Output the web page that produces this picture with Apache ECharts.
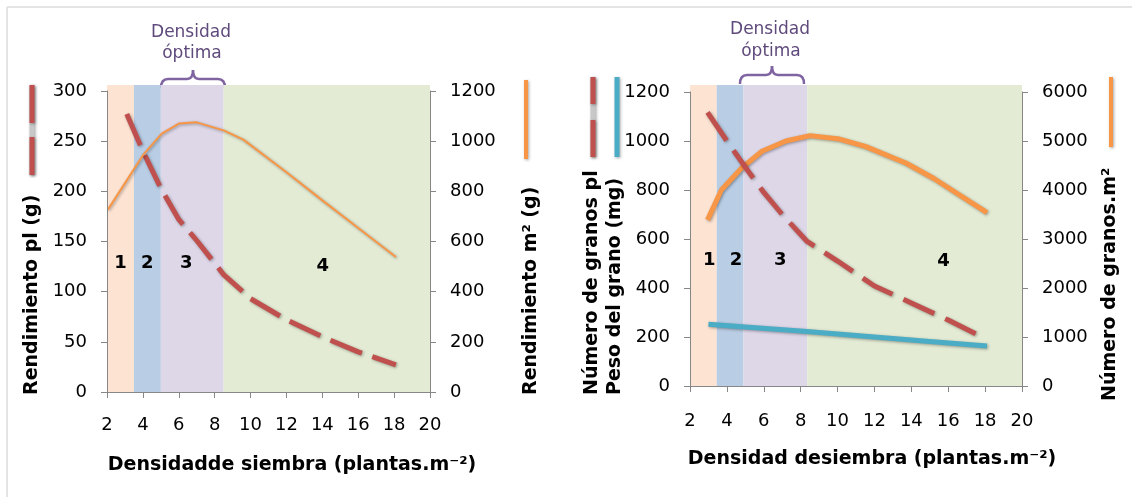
<!DOCTYPE html>
<html><head><meta charset="utf-8">
<script src="https://cdn.jsdelivr.net/npm/echarts@6/dist/echarts.min.js"></script>
<style>html,body{margin:0;padding:0;background:#fff}#c{width:1132px;height:497px}</style>
</head><body><div id="c"></div>
<script>
// ---------- DATA ----------
// Panel A
const densA_red = [3.1, 4, 5, 6, 7, 8.5, 10, 12, 14, 16, 18.1];
const rendPl    = [277, 240, 203, 172, 151, 117, 93, 72, 55, 40, 27];          // Rendimiento pl (g)
const densA_or  = [2.05, 4, 5.05, 6, 7, 8.5, 9.6, 12, 14, 16, 18.1];
const rendM2    = [727, 944, 1030, 1070, 1075, 1043, 1006, 876, 764, 654, 538]; // Rendimiento m2 (g)
// Panel B
const densB_red = [2.95, 4, 5, 6, 7, 8.35, 10, 12, 14, 16, 17.7];
const granosPl  = [1117, 1000, 893, 790, 700, 590, 510, 408, 339, 269, 205];    // Número de granos pl
const densB_cy  = [3, 5, 8.35, 12, 15, 18.1];
const pesoGrano = [252, 241, 222, 200, 182, 163];                               // Peso del grano (mg)
const densB_or  = [2.95, 3.7, 4.8, 5.9, 7.2, 8.5, 10.1, 11.5, 13.7, 15.2, 18.1];
const granosM2  = [3390, 4000, 4450, 4790, 5000, 5110, 5040, 4890, 4550, 4240, 3540]; // Número de granos.m2
// Zones (density limits) and labels
const zoneEdgesA = [2, 3.5, 5, 8.5, 20];
const zoneEdgesB = [2, 3.45, 4.9, 8.35, 20];
const zoneLabels = ['1', '2', '3', '4'];
// Axis ranges [min, max, interval]
const xRange = [2, 20, 2];
const yA_left = [0, 300, 50], yA_right = [0, 1200, 200];
const yB_left = [0, 1200, 200], yB_right = [0, 6000, 1000];
// Zone backgrounds reach a little above the top tick
const zoneTopA = 306, zoneTopB = 1229;

// ---------- STYLE ----------
const FF = 'DejaVu Sans';
const RED = '#c0504d', ORANGE = '#f79646', CYAN = '#4bacc6', PURPLE = '#8064a2';
const zoneColors = ['#fce3d2', '#b9cde4', '#ddd7e8', '#e3ebd4'];
const AX = '#878787';
const shadow = {shadowColor: 'rgba(0,0,0,0.35)', shadowBlur: 3, shadowOffsetX: 1, shadowOffsetY: 1};

const pairs = (xs, ys) => xs.map((x, i) => [x, ys[i]]);

function zones(edges, top, offs) {
  return {
    silent: true,
    itemStyle: {opacity: 1},
    label: {show: true, position: 'insideTop', fontFamily: FF, fontSize: 18, fontWeight: 'bold', color: '#000'},
    emphasis: {disabled: true},
    data: zoneLabels.map((lab, i) => [
      {name: lab, xAxis: edges[i], yAxis: 0, itemStyle: {color: zoneColors[i], opacity: 1},
       label: {offset: offs[i]}},
      {xAxis: edges[i + 1], yAxis: top}
    ])
  };
}

const plain = v => String(v);
function xAxisCfg(g, margin) {
  return {type: 'value', gridIndex: g, min: xRange[0], max: xRange[1], interval: xRange[2],
    axisLine: {show: true, onZero: false, lineStyle: {color: AX}},
    axisTick: {show: true, length: 6, lineStyle: {color: AX}},
    axisLabel: {margin: margin, fontFamily: FF, fontSize: 18, color: '#000', formatter: plain},
    splitLine: {show: false}, z: 5};
}
function yAxisCfg(g, pos, r) {
  return {type: 'value', gridIndex: g, position: pos, min: r[0], max: r[1], interval: r[2],
    axisLine: {show: true, onZero: false, lineStyle: {color: AX}},
    axisTick: {show: true, length: 6, lineStyle: {color: AX}},
    axisLabel: {margin: 20, fontFamily: FF, fontSize: 18, color: '#000', formatter: plain},
    splitLine: {show: false}, z: 5};
}
function hiddenX(g) { return {type: 'value', gridIndex: g, min: xRange[0], max: xRange[1], show: false}; }
function hiddenY(g, top) { return {type: 'value', gridIndex: g, min: 0, max: top, show: false}; }

function vText(x, y, text, size) {
  return {type: 'text', x: x, y: y, rotation: Math.PI / 2,
    style: {text: text, fontFamily: FF, fontSize: size || 19, fontWeight: 'bold', fill: '#000', align: 'left', verticalAlign: 'middle'}};
}
function hText(x, y, text, size, weight, color) {
  return {type: 'text', x: x, y: y,
    style: {text: text, fontFamily: FF, fontSize: size, fontWeight: weight, fill: color || '#000', align: 'center', verticalAlign: 'middle'}};
}
function vLine(x, y1, y2, color, w, dash) {
  const st = Object.assign({stroke: color, lineWidth: w}, shadow);
  if (dash) st.lineDash = dash;
  return {type: 'line', shape: {x1: x, y1: y1, x2: x, y2: y2}, style: st};
}
function brace(xL, xR, yE, yH, yP) {
  const xM = (xL + xR) / 2, r = 7, st = {stroke: PURPLE, lineWidth: 2.5, fill: null};
  return [
    {type: 'bezierCurve', shape: {x1: xL, y1: yE, cpx1: xL, cpy1: yH, x2: xL + r, y2: yH}, style: st},
    {type: 'line', shape: {x1: xL + r, y1: yH, x2: xM - 6, y2: yH}, style: st},
    {type: 'bezierCurve', shape: {x1: xM - 6, y1: yH, cpx1: xM, cpy1: yH, x2: xM, y2: yP}, style: st},
    {type: 'bezierCurve', shape: {x1: xM, y1: yP, cpx1: xM, cpy1: yH, x2: xM + 6, y2: yH}, style: st},
    {type: 'line', shape: {x1: xM + 6, y1: yH, x2: xR - r, y2: yH}, style: st},
    {type: 'bezierCurve', shape: {x1: xR - r, y1: yH, cpx1: xR, cpy1: yH, x2: xR, y2: yE}, style: st}
  ];
}

const chart = echarts.init(document.getElementById('c'), null, {renderer: 'canvas'});
const option = {
  animation: false,
  backgroundColor: '#fff',
  textStyle: {fontFamily: FF},
  grid: [
    {left: 107, top: 91, width: 323, height: 301},
    {left: 690, top: 92, width: 332, height: 294},
    {left: 107, top: 85, width: 323, height: 307},   // zone backgrounds A
    {left: 690, top: 85, width: 332, height: 301}    // zone backgrounds B
  ],
  xAxis: [xAxisCfg(0, 24), xAxisCfg(1, 26), hiddenX(2), hiddenX(3)],
  yAxis: [yAxisCfg(0, 'left', yA_left), yAxisCfg(0, 'right', yA_right),
          yAxisCfg(1, 'left', yB_left), yAxisCfg(1, 'right', yB_right),
          hiddenY(2, zoneTopA), hiddenY(3, zoneTopB)],
  series: [
    {type: 'line', name: 'zonasA', xAxisIndex: 2, yAxisIndex: 4, z: 1, data: [], silent: true,
     markArea: zones(zoneEdgesA, zoneTopA, [[0, 164], [0, 164], [-6, 164], [-4, 167]])},
    {type: 'line', name: 'zonasB', xAxisIndex: 3, yAxisIndex: 5, z: 1, data: [], silent: true,
     markArea: zones(zoneEdgesB, zoneTopB, [[6, 161], [6, 161], [5, 161], [29, 162]])},
    {type: 'line', name: 'Rendimiento pl (g)', xAxisIndex: 0, yAxisIndex: 0, z: 3,
     data: pairs(densA_red, rendPl), symbol: 'none', silent: true,
     lineStyle: Object.assign({color: RED, width: 5, type: [34, 11], cap: 'butt'}, shadow)},
    {type: 'line', name: 'Rendimiento m2 (g)', xAxisIndex: 0, yAxisIndex: 1, z: 3,
     data: pairs(densA_or, rendM2), symbol: 'none', silent: true,
     lineStyle: Object.assign({color: ORANGE, width: 2}, shadow)},
    {type: 'line', name: 'Número de granos pl', xAxisIndex: 1, yAxisIndex: 2, z: 4,
     data: pairs(densB_red, granosPl), symbol: 'none', silent: true,
     lineStyle: Object.assign({color: RED, width: 5, type: [34, 12], cap: 'butt'}, shadow)},
    {type: 'line', name: 'Peso del grano (mg)', xAxisIndex: 1, yAxisIndex: 2, z: 3,
     data: pairs(densB_cy, pesoGrano), symbol: 'none', silent: true,
     lineStyle: Object.assign({color: CYAN, width: 5}, shadow)},
    {type: 'line', name: 'Número de granos.m2', xAxisIndex: 1, yAxisIndex: 3, z: 3,
     data: pairs(densB_or, granosM2), symbol: 'none', silent: true,
     lineStyle: Object.assign({color: ORANGE, width: 5}, shadow)}
  ],
  graphic: [].concat(
    [
      {type: 'line', shape: {x1: 7, y1: 7, x2: 1132, y2: 7}, style: {stroke: '#e4e4e4', lineWidth: 2}},
      {type: 'line', shape: {x1: 7, y1: 7, x2: 7, y2: 497}, style: {stroke: '#e4e4e4', lineWidth: 2}},
      // legend keys
      vLine(32, 85, 175, '#c8c8c8', 5),
      vLine(32, 85, 175, RED, 5, [38, 14, 38]),
      vLine(526, 80, 159, ORANGE, 4),
      vLine(593, 77, 157, '#c8c8c8', 5),
      vLine(593, 77, 157, RED, 5, [27, 16, 40]),
      vLine(617, 77, 157, CYAN, 5),
      vLine(1111, 77, 147, ORANGE, 4),
      // axis titles
      vText(32, 395, 'Rendimiento pl (g)'),
      vText(531, 395, 'Rendimiento m² (g)'),
      vText(592, 395, 'Número de granos pl'),
      vText(615, 395, 'Peso del grano (mg)'),
      vText(1110, 401, 'Número de granos.m²'),
      hText(292, 465, 'Densidadde siembra (plantas.m⁻²)', 19, 'bold'),
      hText(872, 459, 'Densidad desiembra (plantas.m⁻²)', 19, 'bold'),
      // panel letters
      hText(400, 111, 'A', 30, 'bold'),
      hText(993, 111, 'B', 30, 'bold'),
      // optimum density notes
      hText(191, 33, 'Densidad', 17, 'normal', '#5f4a7c'),
      hText(192, 54, 'óptima', 17, 'normal', '#5f4a7c'),
      hText(770, 30, 'Densidad', 17, 'normal', '#5f4a7c'),
      hText(771, 52, 'óptima', 17, 'normal', '#5f4a7c')
    ],
    brace(161, 225, 88, 79, 70),
    brace(740, 804, 84, 75, 66)
  )
};
chart.setOption(option);
</script>
</body></html>
